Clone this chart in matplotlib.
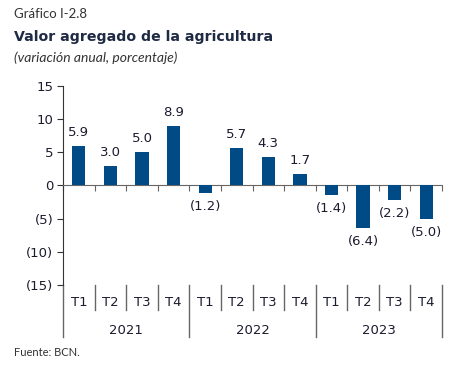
import matplotlib
matplotlib.use("Agg")
import matplotlib.pyplot as plt
import matplotlib.transforms as mtransforms

quarters = ["T1", "T2", "T3", "T4"] * 3
years = ["2021", "2022", "2023"]
values = [5.9, 3.0, 5.0, 8.9, -1.2, 5.7, 4.3, 1.7, -1.4, -6.4, -2.2, -5.0]
yticks = [15, 10, 5, 0, -5, -10, -15]

bar_color = "#004A86"
text_color = "#1B1B2F"
line_color = "#666666"


def fmt(v, dec=1):
    s = f"{abs(v):.{dec}f}"
    return f"({s})" if v < 0 else s


fig = plt.figure(figsize=(4.6, 3.9), dpi=100)
ax = fig.add_axes([0.137, 0.269, 0.824, 0.511])

x = list(range(len(values)))
ax.bar(x, values, width=0.42, color=bar_color, zorder=3)

for xi, v in zip(x, values):
    if v >= 0:
        ax.annotate(fmt(v), (xi, v), xytext=(0, 5), textcoords="offset points",
                    ha="center", va="bottom", fontsize=9.5, color=text_color,
                    family="DejaVu Sans")
    else:
        ax.annotate(fmt(v), (xi, v), xytext=(0, -5), textcoords="offset points",
                    ha="center", va="top", fontsize=9.5, color=text_color,
                    family="DejaVu Sans")

ax.set_xlim(-0.5, len(values) - 0.5)
ax.set_ylim(-15, 15)
ax.set_yticks(yticks)
ax.set_yticklabels([fmt(t, 0) for t in yticks], fontsize=9.5, color=text_color,
                   family="DejaVu Sans")

for s in ["top", "right"]:
    ax.spines[s].set_visible(False)
ax.spines["bottom"].set_position(("data", 0))
ax.spines["bottom"].set_color(line_color)
ax.spines["left"].set_color("#333333")
ax.set_xticks([i + 0.5 for i in range(-1, len(values))])
ax.set_xticklabels([])
ax.tick_params(axis="x", direction="out", length=4, color=line_color)
ax.tick_params(axis="y", direction="out", length=4, color="#333333", pad=3)

# category axis below the plot area
trans = mtransforms.blended_transform_factory(ax.transData, ax.transAxes)
for i, q in enumerate(quarters):
    ax.text(i, -0.085, q, transform=trans, ha="center", va="center",
            fontsize=9.5, color=text_color, family="DejaVu Sans")
for j, yr in enumerate(years):
    ax.text(j * 4 + 1.5, -0.226, yr, transform=trans, ha="center", va="center",
            fontsize=9.5, color=text_color, family="DejaVu Sans")
for b in range(len(values) + 1):
    xb = b - 0.5
    bottom = -0.261 if b % 4 == 0 else -0.126
    ax.plot([xb, xb], [bottom, 0], transform=trans, color=line_color,
            lw=1.0, clip_on=False)

fig.text(14 / 460, 1 - 14 / 390, "Gráfico I-2.8", ha="left", va="center",
         fontsize=9.5, color="#333333", family="Lato")
fig.text(14 / 460, 1 - 37 / 390, "Valor agregado de la agricultura", ha="left",
         va="center", fontsize=10.2, color="#1F2A44", family="DejaVu Sans",
         fontweight="bold")
fig.text(14 / 460, 1 - 58 / 390, "(variación anual, porcentaje)", ha="left",
         va="center", fontsize=10, color="#333333", family="Lato",
         style="italic")
fig.text(14 / 460, 1 - 352 / 390, "Fuente: BCN.", ha="left", va="center",
         fontsize=8, color="#333333", family="Lato")

fig.savefig("out.png", dpi=100)
